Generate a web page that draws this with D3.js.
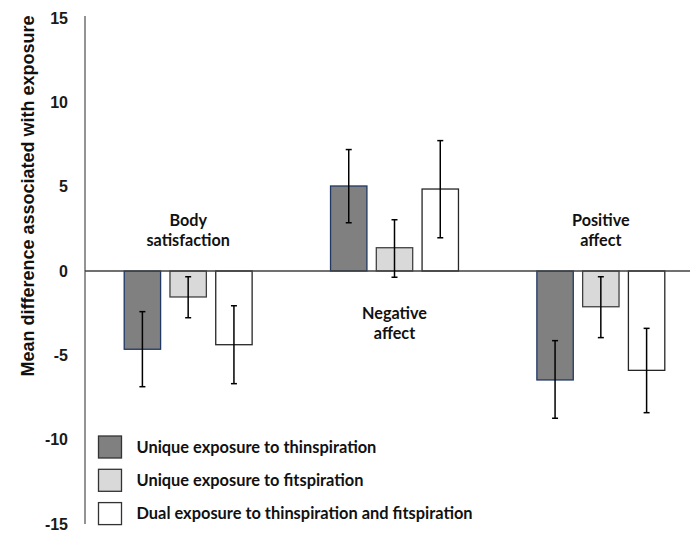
<!DOCTYPE html>
<html><head><meta charset="utf-8">
<script src="https://cdn.jsdelivr.net/npm/d3@7"></script>
<style>body{margin:0;background:#fff}svg{display:block}</style>
</head><body>
<script>
const categories = ["Body satisfaction", "Negative affect", "Positive affect"];
const categoryLines = [["Body", "satisfaction"], ["Negative", "affect"], ["Positive", "affect"]];
const series = ["Unique exposure to thinspiration", "Unique exposure to fitspiration", "Dual exposure to thinspiration and fitspiration"];
const thinValues = [-4.64, 5.04, -6.46];
const thinLow = [-6.86, 2.86, -8.73];
const thinHigh = [-2.41, 7.2, -4.13];
const fitValues = [-1.54, 1.38, -2.12];
const fitLow = [-2.77, -0.37, -3.95];
const fitHigh = [-0.34, 3.04, -0.34];
const dualValues = [-4.37, 4.86, -5.89];
const dualLow = [-6.68, 1.97, -8.4];
const dualHigh = [-2.06, 7.73, -3.4];
const yTicks = [15, 10, 5, 0, -5, -10, -15];

const W = 690, H = 533;
const svg = d3.select("body").append("svg").attr("width", W).attr("height", H);
const y = d3.scaleLinear().domain([-15, 15]).range([524, 18]);
const x0 = d3.scaleBand().domain(categories).range([85, 704]).paddingInner(0.38).paddingOuter(0.19);
const x1 = d3.scaleBand().domain(series).range([0, x0.bandwidth()]).paddingInner(0.205);

const fills = ["#808080", "#d9d9d9", "#ffffff"];
const strokes = ["#1f3864", "#404040", "#262626"];
const vals = [thinValues, fitValues, dualValues];
const lows = [thinLow, fitLow, dualLow];
const highs = [thinHigh, fitHigh, dualHigh];

const data = [];
categories.forEach((c, ci) => series.forEach((s, si) => data.push({c, s, si, v: vals[si][ci], lo: lows[si][ci], hi: highs[si][ci]})));

// y axis (line only, tick labels)
const yAxis = d3.axisLeft(y).tickValues(yTicks).tickSize(0).tickPadding(17).tickFormat(d => String(d));
const ga = svg.append("g").attr("transform", "translate(85,0)").call(yAxis);
ga.select(".domain").attr("stroke", "#595959").attr("stroke-width", 1.3).attr("d", `M0,${y(15)-2}V${y(-15)}`);
ga.selectAll("text").attr("font-family", "Liberation Sans, Arial, sans-serif").attr("font-weight", "bold").attr("font-size", 16).attr("fill", "#1a1a1a");

// bars
const g = svg.append("g");
g.selectAll("rect.bar").data(data).join("rect")
  .attr("x", d => x0(d.c) + x1(d.s))
  .attr("y", d => y(Math.max(0, d.v)))
  .attr("width", x1.bandwidth())
  .attr("height", d => Math.abs(y(d.v) - y(0)))
  .attr("fill", d => fills[d.si]).attr("stroke", d => strokes[d.si]).attr("stroke-width", 1.3);

// zero line
svg.append("line").attr("x1", 85).attr("x2", W).attr("y1", y(0)).attr("y2", y(0)).attr("stroke", "#404040").attr("stroke-width", 1.3);

// error bars
const eb = svg.append("g").attr("stroke", "#000").attr("stroke-width", 1.5);
data.forEach(d => {
  const cx = x0(d.c) + x1(d.s) + x1.bandwidth() / 2;
  eb.append("line").attr("x1", cx).attr("x2", cx).attr("y1", y(d.hi)).attr("y2", y(d.lo));
  eb.append("line").attr("x1", cx - 3).attr("x2", cx + 3).attr("y1", y(d.hi)).attr("y2", y(d.hi));
  eb.append("line").attr("x1", cx - 3).attr("x2", cx + 3).attr("y1", y(d.lo)).attr("y2", y(d.lo));
});

// category labels
const labelY = [[220, 240], [313, 333], [220, 240]];
categories.forEach((c, ci) => {
  const cx = x0(c) + x0.bandwidth() / 2;
  categoryLines[ci].forEach((t, li) => {
    svg.append("text").attr("x", cx).attr("y", labelY[ci][li]).attr("dy", "0.35em")
      .attr("text-anchor", "middle").attr("font-family", "Lato, Carlito, sans-serif")
      .attr("font-weight", "bold").attr("font-size", 16.2).attr("fill", "#111").text(t);
  });
});

// legend
series.forEach((s, si) => {
  const ly = 436 + si * 33.3;
  svg.append("rect").attr("x", 98.5).attr("y", ly).attr("width", 23).attr("height", 22)
    .attr("fill", fills[si]).attr("stroke", "#333").attr("stroke-width", 1.3);
  svg.append("text").attr("x", 136.5).attr("y", ly + 11).attr("dy", "0.35em")
    .attr("font-family", "Lato, Carlito, sans-serif").attr("font-weight", "bold").attr("font-size", 16.4)
    .attr("fill", "#111").text(s);
});

// y label
svg.append("text").attr("transform", "translate(34,196) rotate(-90)").attr("text-anchor", "middle")
  .attr("font-family", "Liberation Sans, Arial, sans-serif").attr("font-weight", "bold").attr("font-size", 18)
  .attr("fill", "#111").text("Mean difference associated with exposure");
</script>
</body></html>
